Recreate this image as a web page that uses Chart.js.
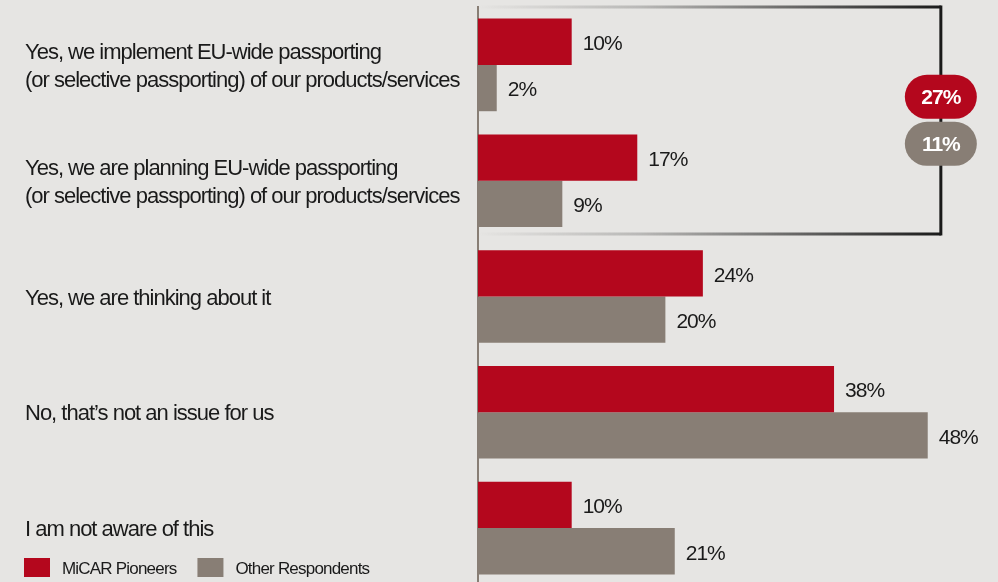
<!DOCTYPE html>
<html>
<head>
<meta charset="utf-8">
<title>EU-wide passporting</title>
<script src="https://cdn.jsdelivr.net/npm/chart.js@4/dist/chart.umd.min.js"></script>
<style>
  html, body { margin: 0; padding: 0; background: #e6e5e3; overflow: hidden; }
  #wrap { position: relative; width: 998px; height: 590px; }
</style>
</head>
<body>
<div id="wrap"><canvas id="chart"></canvas></div>
<script>
// answers, one per row (each answer is a list of text lines)
let answers = [
    ["Yes, we implement EU-wide passporting", "(or selective passporting) of our products/services"],
    ["Yes, we are planning EU-wide passporting", "(or selective passporting) of our products/services"],
    "Yes, we are thinking about it",
    "No, that\u2019s not an issue for us",
    "I am not aware of this"
];

let seriesNames = ["MiCAR Pioneers", "Other Respondents"];
let pioneers = [10, 17, 24, 38, 10];
let others = [2, 9, 20, 48, 21];

// combined share of the first two answers
let bracketTotals = [27, 11];

let RED = "#b4071d";
let GREY = "#887e75";
let INK = "#1a1a1a";
let FONT = "'Liberation Sans Narrow', 'Arial Narrow', 'Liberation Sans', Arial, sans-serif";

// tighter text everywhere (the narrow face is not always there)
const tightText = {
    id: "tightText",
    beforeDraw(chart) {
        chart.ctx.letterSpacing = "-1px";
    }
};

// VALUE LABELS
const valueLabels = {
    id: "valueLabels",
    afterDatasetsDraw(chart) {
        let ctx = chart.ctx;
        ctx.save();
        ctx.letterSpacing = "-1px";
        ctx.font = "21px " + FONT;
        ctx.fillStyle = INK;
        ctx.textAlign = "left";
        ctx.textBaseline = "middle";
        chart.data.datasets.forEach((ds, i) => {
            chart.getDatasetMeta(i).data.forEach((bar, j) => {
                ctx.fillText(ds.data[j] + "%", bar.x + 11, bar.y + 2.5);
            });
        });
        ctx.restore();
    }
};

// BRACKET round the first two answers, with the totals
function roundRect(ctx, x, y, w, h, r) {
    ctx.beginPath();
    ctx.moveTo(x + r, y);
    ctx.arcTo(x + w, y, x + w, y + h, r);
    ctx.arcTo(x + w, y + h, x, y + h, r);
    ctx.arcTo(x, y + h, x, y, r);
    ctx.arcTo(x, y, x + w, y, r);
    ctx.closePath();
}

const bracket = {
    id: "bracket",
    afterDatasetsDraw(chart) {
        let ctx = chart.ctx;
        let xs = chart.scales.x;
        let ys = chart.scales.y;
        let area = chart.chartArea;

        let right = xs.getPixelForValue(49.4);
        let top = area.top;
        let bottom = ys.getPixelForValue(1.46);

        let grad = ctx.createLinearGradient(area.left, 0, right, 0);
        grad.addColorStop(0, "rgba(26,26,26,0)");
        grad.addColorStop(0.35, "rgba(26,26,26,0.22)");
        grad.addColorStop(1, "rgba(26,26,26,1)");

        ctx.save();
        ctx.lineWidth = 3;
        ctx.strokeStyle = grad;
        ctx.beginPath();
        ctx.moveTo(area.left + 2, top);
        ctx.lineTo(right, top);
        ctx.moveTo(area.left + 2, bottom);
        ctx.lineTo(right, bottom);
        ctx.stroke();

        ctx.strokeStyle = INK;
        ctx.beginPath();
        ctx.moveTo(right, top - 1.5);
        ctx.lineTo(right, bottom + 1.5);
        ctx.stroke();

        // pills
        let mid = ys.getPixelForValue(0.5);
        let centers = [mid - 26, mid + 21];
        let fills = [RED, GREY];
        ctx.letterSpacing = "-1px";
        ctx.font = "bold 21px " + FONT;
        ctx.textAlign = "center";
        ctx.textBaseline = "middle";
        bracketTotals.forEach((v, i) => {
            let w = 72, h = 44;
            roundRect(ctx, right - w / 2, centers[i] - h / 2, w, h, 22);
            ctx.fillStyle = fills[i];
            ctx.fill();
            ctx.fillStyle = "#ffffff";
            ctx.fillText(v + "%", right, centers[i] + 1);
        });
        ctx.restore();
    }
};

// LEGEND (bottom left, under the answers)
const bottomLegend = {
    id: "bottomLegend",
    afterDraw(chart) {
        let ctx = chart.ctx;
        ctx.save();
        ctx.letterSpacing = "-0.8px";
        ctx.font = "17px " + FONT;
        ctx.textAlign = "left";
        ctx.textBaseline = "middle";
        let x = 24;
        let y = 558;
        chart.data.datasets.forEach(ds => {
            ctx.fillStyle = ds.backgroundColor;
            ctx.fillRect(x, y, 26, 19);
            ctx.fillStyle = INK;
            ctx.fillText(ds.label, x + 38, y + 11.5);
            x += 38 + ctx.measureText(ds.label).width + 21;
        });
        ctx.restore();
    }
};

let chart = new Chart(document.getElementById("chart"), {
    type: "bar",
    data: {
        labels: answers,
        datasets: [
            { label: seriesNames[0], data: pioneers, backgroundColor: RED },
            { label: seriesNames[1], data: others, backgroundColor: GREY }
        ]
    },
    options: {
        indexAxis: "y",
        responsive: true,
        maintainAspectRatio: false,
        animation: false,
        categoryPercentage: 0.8,
        barPercentage: 1.0,
        layout: { padding: { left: 25, top: 7, right: 0, bottom: 4 } },
        plugins: {
            legend: { display: false },
            tooltip: { enabled: false }
        },
        scales: {
            x: {
                min: 0,
                max: 55.5,
                display: false
            },
            y: {
                grid: { display: false, drawTicks: false },
                border: { display: true, color: GREY, width: 2 },
                ticks: {
                    crossAlign: "far",
                    labelOffset: 2,
                    color: INK,
                    font: { family: FONT, size: 22, lineHeight: 1.28 }
                },
                afterFit(scale) {
                    scale.width = 453;
                    scale.paddingTop = 0;
                    scale.paddingBottom = 0;
                }
            }
        }
    },
    plugins: [tightText, valueLabels, bracket, bottomLegend]
});
</script>
</body>
</html>
